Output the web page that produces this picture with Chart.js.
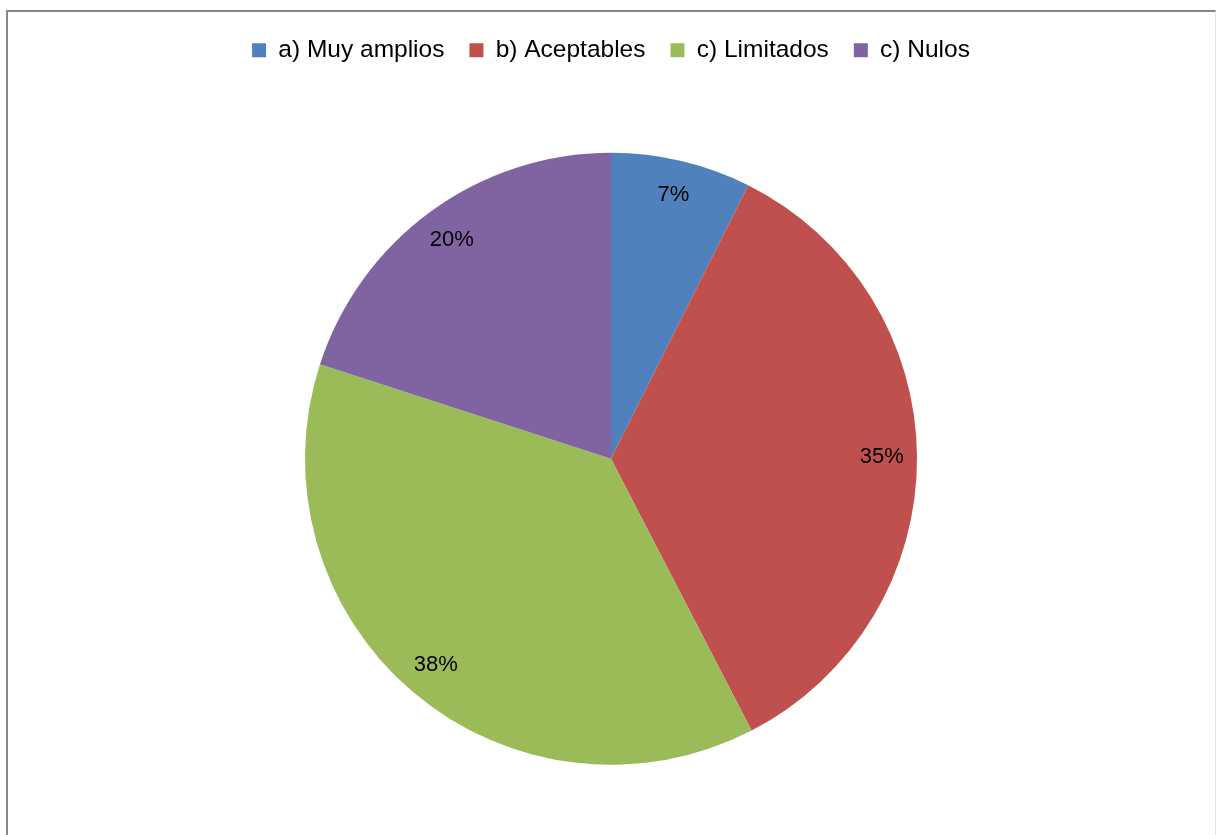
<!DOCTYPE html>
<html lang="es">
<head>
  <meta charset="UTF-8">
  <title>Grafico circular</title>
  <script src="https://cdn.jsdelivr.net/npm/chart.js"></script>
  <style>
    body { margin: 0; background: #fff; overflow: hidden; }
    .frame {
      position: absolute; left: 6px; top: 10px;
      width: 1207px; height: 900px;
      border: 2px solid #878787;
      border-right: 1px solid #e4e4e4;
    }
    .wrap { position: absolute; left: 0; top: 2px; width: 1216px; height: 843px; }
  </style>
</head>
<body>
  <div class="frame"></div>
  <div class="wrap"><canvas id="pieChart"></canvas></div>

  <script>
    // Data
    const categories = ['a) Muy amplios', 'b) Aceptables', 'c) Limitados', 'c) Nulos'];
    const values = [7.4, 35.0, 37.6, 20.0];
    const colors = ['#4F81BD', '#C0504D', '#9BBB59', '#8064A2'];

    // Percent labels inside the slices, near the outer edge
    const sliceLabels = {
      id: 'sliceLabels',
      afterDatasetsDraw(chart) {
        const ctx = chart.ctx;
        const meta = chart.getDatasetMeta(0);
        const total = values.reduce((a, b) => a + b, 0);
        ctx.save();
        ctx.font = '22px "Liberation Sans", Arial, sans-serif';
        ctx.fillStyle = '#000';
        ctx.textAlign = 'center';
        ctx.textBaseline = 'middle';
        meta.data.forEach((arc, i) => {
          const p = arc.getProps(['x', 'y', 'startAngle', 'endAngle', 'outerRadius'], true);
          const mid = (p.startAngle + p.endAngle) / 2;
          const r = p.outerRadius * 0.885;
          ctx.fillText(Math.round(values[i] / total * 100) + '%', p.x + Math.cos(mid) * r, p.y + Math.sin(mid) * r);
        });
        ctx.restore();
      }
    };

    document.addEventListener('DOMContentLoaded', function() {
      const ctx = document.getElementById('pieChart').getContext('2d');
      new Chart(ctx, {
        type: 'pie',
        data: {
          labels: categories,
          datasets: [{
            data: values,
            backgroundColor: colors,
            borderWidth: 0,
            radius: 306
          }]
        },
        options: {
          responsive: true,
          maintainAspectRatio: false,
          animation: false,
          layout: { padding: { top: 11, bottom: 0, left: 6, right: 0 } },
          plugins: {
            tooltip: { enabled: false },
            legend: {
              position: 'top',
              labels: {
                boxWidth: 14,
                boxHeight: 14,
                padding: 25,
                color: '#000',
                font: { family: '"Liberation Sans", Arial, sans-serif', size: 24.5 }
              }
            }
          }
        },
        plugins: [sliceLabels]
      });
    });
  </script>
</body>
</html>
